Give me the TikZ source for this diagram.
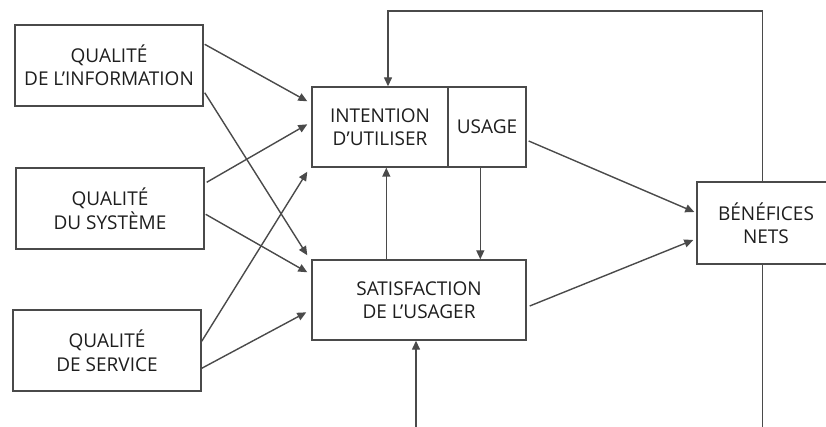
\documentclass[tikz,border=0pt]{standalone}
\usepackage{fontspec}
\setmainfont{Open Sans}
\usetikzlibrary{arrows.meta,calc}
\definecolor{linegray}{HTML}{4A4A4A}
\definecolor{textgray}{HTML}{1E1E1E}
\begin{document}
\begin{tikzpicture}[x=1pt,y=-1pt,
  box/.style={draw=linegray,line width=1.4pt,rectangle,inner sep=0pt,
    align=center,text=textgray,font=\fontsize{19}{23.5}\selectfont},
  link/.style={draw=linegray,line width=1.4pt,
    -{Triangle[length=9pt,width=8pt]}},
  plain/.style={draw=linegray,line width=1.4pt}]
\clip (0,0) rectangle (826,427);
\fill[white] (0,0) rectangle (826,427);

% quality boxes
\node[box,minimum width=188,minimum height=81] (qi) at (109,65.5) {QUALITÉ\\DE L'INFORMATION};
\node[box,minimum width=188,minimum height=81] (qs) at (110,208.5) {QUALITÉ\\DU SYSTÈME};
\node[box,minimum width=188,minimum height=81] (qv) at (107,350.5) {QUALITÉ\\DE SERVICE};

% use and satisfaction
\node[box,minimum width=136,minimum height=80] (int) at (380,127) {INTENTION\\D'UTILISER};
\node[box,minimum width=78,minimum height=80] (use) at (487,127) {USAGE};
\node[box,minimum width=214,minimum height=80] (sat) at (419,300) {SATISFACTION\\DE L'USAGER};

% net benefits (runs past the right edge)
\node[box,minimum width=138,minimum height=82] (ben) at (766,223) {BÉNÉFICES\\NETS};

% quality -> intention / satisfaction
\draw[link] ($(qi.north east)+(1,20)$) -- ($(int.north west)+(-4,15)$);
\draw[link] ($(qi.south east)+(1,-14)$) -- ($(sat.north west)+(-4,-4)$);
\draw[link] ($(qs.north east)+(2,15)$) -- ($(int.north west)+(-4,38)$);
\draw[link] ($(qs.north east)+(1,47)$) -- ($(sat.north west)+(-4,13)$);
\draw[link] ($(qv.north east)+(0,32)$) -- ($(int.south west)+(-4,4)$);
\draw[link] ($(qv.north east)+(0,59)$) -- ($(sat.north west)+(-5,53)$);

% toward net benefits
\draw[link] ($(use.east)+(2,14)$) -- ($(ben.west)+(-2,-11)$);
\draw[link] ($(sat.east)+(3,6)$) -- ($(ben.west)+(-3,17)$);

% between intention/usage and satisfaction
\coordinate (su) at ($(sat.north west)+(75,0)$);
\draw[link] (su) -- (su |- int.south);
\coordinate (ud) at ($(use.south west)+(33,0)$);
\draw[link] (ud) -- (ud |- sat.north);

% incoming from below
\coordinate (low) at (416,432);
\draw[link] (low) -- (low |- sat.south);

% feedback loop from net benefits
\coordinate (bx) at ($(ben.north west)+(66,0)$);
\coordinate (top) at (388,11);
\draw[link] (bx) -- (bx |- top) -- (top) -- (top |- int.north);
\coordinate (bl) at ($(ben.south west)+(66,0)$);
\draw[plain] (bl) -- (bl |- low);
\end{tikzpicture}
\end{document}
